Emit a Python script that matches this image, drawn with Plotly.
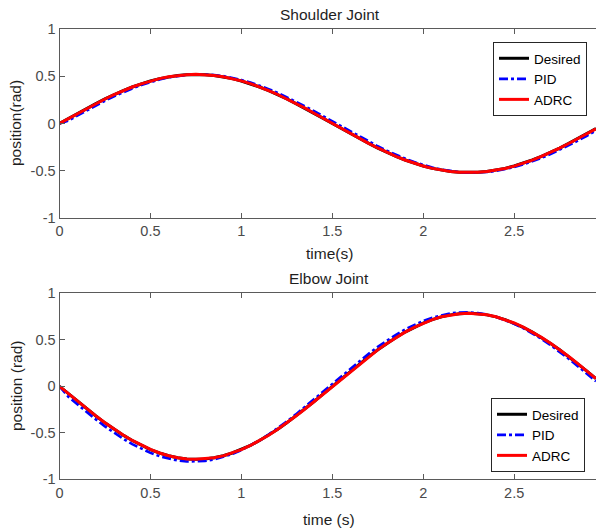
import plotly.graph_objects as go

# time samples (s)
t = [round(0.05 * k, 2) for k in range(60)]

# Shoulder joint (rad)
shoulder_desired = [0, 0.054, 0.108, 0.161, 0.211, 0.260, 0.306, 0.348, 0.386, 0.421,
                    0.450, 0.475, 0.495, 0.509, 0.517, 0.520, 0.517, 0.509, 0.495, 0.475,
                    0.450, 0.421, 0.386, 0.348, 0.306, 0.260, 0.211, 0.161, 0.108, 0.054,
                    0, -0.054, -0.108, -0.161, -0.211, -0.260, -0.306, -0.348, -0.386, -0.421,
                    -0.450, -0.475, -0.495, -0.509, -0.517, -0.520, -0.517, -0.509, -0.495, -0.475,
                    -0.450, -0.421, -0.386, -0.348, -0.306, -0.260, -0.211, -0.161, -0.108, -0.054]
shoulder_pid = [0, 0.032, 0.086, 0.140, 0.191, 0.241, 0.288, 0.332, 0.371, 0.408,
                0.439, 0.466, 0.488, 0.504, 0.515, 0.520, 0.519, 0.514, 0.502, 0.484,
                0.461, 0.434, 0.401, 0.364, 0.324, 0.279, 0.231, 0.182, 0.130, 0.076,
                0.022, -0.032, -0.086, -0.140, -0.191, -0.241, -0.288, -0.332, -0.371, -0.408,
                -0.439, -0.466, -0.488, -0.504, -0.515, -0.520, -0.519, -0.514, -0.502, -0.484,
                -0.461, -0.434, -0.401, -0.364, -0.324, -0.279, -0.231, -0.182, -0.130, -0.076]
shoulder_adrc = [0, 0.053, 0.107, 0.160, 0.210, 0.259, 0.305, 0.347, 0.386, 0.420,
                 0.450, 0.475, 0.495, 0.509, 0.517, 0.520, 0.517, 0.509, 0.495, 0.476,
                 0.451, 0.422, 0.387, 0.349, 0.307, 0.261, 0.212, 0.162, 0.109, 0.055,
                 0.001, -0.053, -0.107, -0.160, -0.210, -0.259, -0.305, -0.347, -0.386, -0.420,
                 -0.450, -0.475, -0.495, -0.509, -0.517, -0.520, -0.517, -0.509, -0.495, -0.476,
                 -0.451, -0.422, -0.387, -0.349, -0.307, -0.261, -0.212, -0.162, -0.109, -0.055]

# Elbow joint (rad)
elbow_desired = [0, -0.082, -0.163, -0.243, -0.319, -0.393, -0.461, -0.525, -0.583, -0.635,
                 -0.680, -0.717, -0.747, -0.768, -0.781, -0.785, -0.781, -0.768, -0.747, -0.717,
                 -0.680, -0.635, -0.583, -0.525, -0.461, -0.393, -0.319, -0.243, -0.163, -0.082,
                 0, 0.082, 0.163, 0.243, 0.319, 0.393, 0.461, 0.525, 0.583, 0.635,
                 0.680, 0.717, 0.747, 0.768, 0.781, 0.785, 0.781, 0.768, 0.747, 0.717,
                 0.680, 0.635, 0.583, 0.525, 0.461, 0.393, 0.319, 0.243, 0.163, 0.082]
elbow_pid = [0, -0.115, -0.197, -0.279, -0.356, -0.431, -0.500, -0.564, -0.622, -0.673,
             -0.716, -0.752, -0.779, -0.798, -0.809, -0.810, -0.803, -0.786, -0.761, -0.728,
             -0.686, -0.637, -0.582, -0.520, -0.452, -0.379, -0.302, -0.221, -0.139, -0.055,
             0.030, 0.113, 0.194, 0.275, 0.350, 0.424, 0.491, 0.554, 0.611, 0.661,
             0.703, 0.738, 0.765, 0.784, 0.794, 0.795, 0.788, 0.772, 0.747, 0.714,
             0.673, 0.625, 0.571, 0.510, 0.443, 0.372, 0.296, 0.217, 0.136, 0.053]
elbow_adrc = [0, -0.081, -0.162, -0.242, -0.318, -0.392, -0.460, -0.524, -0.582, -0.634,
              -0.679, -0.717, -0.747, -0.768, -0.781, -0.785, -0.781, -0.769, -0.748, -0.718,
              -0.681, -0.636, -0.584, -0.526, -0.462, -0.394, -0.320, -0.244, -0.164, -0.083,
              -0.001, 0.081, 0.162, 0.242, 0.318, 0.392, 0.460, 0.524, 0.582, 0.634,
              0.679, 0.717, 0.747, 0.768, 0.781, 0.785, 0.781, 0.769, 0.748, 0.718,
              0.681, 0.636, 0.584, 0.526, 0.462, 0.394, 0.320, 0.244, 0.164, 0.083]

series_names = ["Desired", "PID", "ADRC"]
xtick_vals = [0, 0.5, 1, 1.5, 2, 2.5]
xtick_text = ["0", "0.5", "1", "1.5", "2", "2.5"]
ytick_vals = [-1, -0.5, 0, 0.5, 1]
ytick_text = ["-1", "-0.5", "0", "0.5", "1"]

FONT = "Liberation Sans, Arial, sans-serif"
AX = "#5a5a5a"
TICKTXT = "#4a4a4a"
TXT = "#1e1e1e"
W, H = 596, 531

fig = go.Figure()
styles = [dict(color="black", width=3, dash="solid"),
          dict(color="blue", width=2.6, dash="dashdot"),
          dict(color="red", width=3, dash="solid")]

for name, ys, st in zip(series_names, [shoulder_desired, shoulder_pid, shoulder_adrc], styles):
    fig.add_trace(go.Scatter(x=t, y=ys, mode="lines", name=name, line=st,
                             xaxis="x", yaxis="y", legend="legend"))
for name, ys, st in zip(series_names, [elbow_desired, elbow_pid, elbow_adrc], styles):
    fig.add_trace(go.Scatter(x=t, y=ys, mode="lines", name=name, line=st,
                             xaxis="x2", yaxis="y2", legend="legend2"))

xdom = [59.5 / W, 1.0]
common_x = dict(range=[0, 2.95], tickvals=xtick_vals, ticktext=xtick_text,
                showline=True, linecolor=AX, linewidth=1, mirror="ticks",
                ticks="inside", ticklen=5, tickcolor=AX, showgrid=False, zeroline=False,
                automargin=False,
                tickfont=dict(family=FONT, size=14.5, color=TICKTXT), domain=xdom)
common_y = dict(range=[-1, 1], tickvals=ytick_vals, ticktext=ytick_text,
                showline=True, linecolor=AX, linewidth=1, mirror=False,
                ticks="inside", ticklen=5, tickcolor=AX, showgrid=False, zeroline=False,
                automargin=False,
                tickfont=dict(family=FONT, size=14.5, color=TICKTXT))

leg = dict(bgcolor="white", bordercolor="#262626", borderwidth=1,
           font=dict(family=FONT, size=13.5, color="black"),
           xanchor="right", yanchor="top", tracegroupgap=0)


def ann(text, px, py, angle=0):
    return dict(text=text, x=px / W, y=1 - py / H, xref="paper", yref="paper",
                showarrow=False, xanchor="center", yanchor="middle", textangle=angle,
                font=dict(family=FONT, size=15.5, color=TXT))


fig.update_layout(
    template="none",
    width=W, height=H, autosize=False,
    margin=dict(l=0, r=0, t=0, b=0, pad=0, autoexpand=False),
    paper_bgcolor="white", plot_bgcolor="white",
    showlegend=True,
    xaxis=dict(**common_x, anchor="y"),
    yaxis=dict(**common_y, domain=[1 - 218 / H, 1 - 29 / H], anchor="x"),
    xaxis2=dict(**common_x, anchor="y2"),
    yaxis2=dict(**common_y, domain=[1 - 479.3 / H, 1 - 293.3 / H], anchor="x2"),
    legend=dict(**leg, x=587 / W, y=1 - 42 / H),
    legend2=dict(**leg, x=585 / W, y=1 - 398 / H),
    annotations=[
        ann("Shoulder Joint", 330, 14),
        ann("time(s)", 329, 253),
        ann("Elbow Joint", 329, 278),
        ann("time (s)", 329, 519),
        ann("position(rad)", 16, 123, -90),
        ann("position (rad)", 16, 386, -90),
    ],
)

fig.write_html(
    "out.html",
    config={"displayModeBar": False},
    post_script="document.body.style.margin='0';document.body.style.padding='0';"
                "document.body.style.overflow='hidden';",
)
